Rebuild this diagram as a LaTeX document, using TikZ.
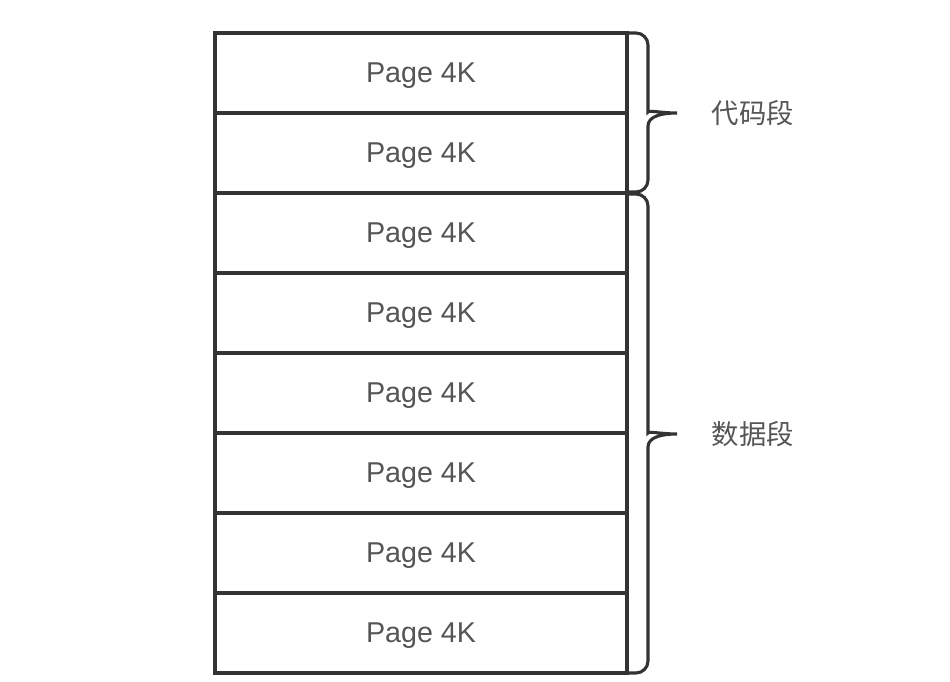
\documentclass[tikz,border=0pt]{standalone}
\usepackage{fontspec}
\setmainfont{Liberation Sans}
\newfontfamily\cjk{Noto Sans CJK SC}
\usetikzlibrary{positioning,calc}
\definecolor{linegray}{HTML}{333333}
\definecolor{textgray}{HTML}{555555}

\begin{document}
\begin{tikzpicture}[x=0.75pt,y=-0.75pt,font=\fontsize{21.5}{26}\selectfont,
  page/.style={draw=linegray,line width=2.4pt,minimum width=309pt,minimum height=60pt,inner sep=0pt,outer sep=0pt,text depth=0pt,text=textgray},
  curly/.style={draw=linegray,line width=2.3pt},
  seg/.style={text=textgray,inner sep=0pt,font=\cjk\fontsize{20.5}{26}\selectfont}]
  \useasboundingbox (0,0) rectangle (950,682);

  % stack of pages
  \node[page] (p1) at (421,73) {Page 4K};
  \foreach \i [count=\j from 2] in {1,...,7}
    \node[page,below=0pt of p\i] (p\j) {Page 4K};

  % code segment brace
  \draw[curly] ($(p1.north east)$) [rounded corners=9] -- (648,33) -- (648,100)
    [sharp corners] .. controls (648,110) and (662,113) .. (677,113) coordinate (tip1)
    .. controls (662,113) and (648,116) .. (648,126)
    [rounded corners=9] -- (648,192) -- ($(p2.south east)+(0,-1)$);
  \node[seg,right=26pt of tip1] (code) {代码段};

  % data segment brace
  \draw[curly] ($(p3.north east)+(0,1)$) [rounded corners=9] -- (648,194) -- (648,421)
    [sharp corners] .. controls (648,431) and (662,434) .. (677,434) coordinate (tip2)
    .. controls (662,434) and (648,437) .. (648,447)
    [rounded corners=9] -- (648,673) -- (p8.south east);
  \node[seg,right=26pt of tip2] (data) {数据段};
\end{tikzpicture}
\end{document}
